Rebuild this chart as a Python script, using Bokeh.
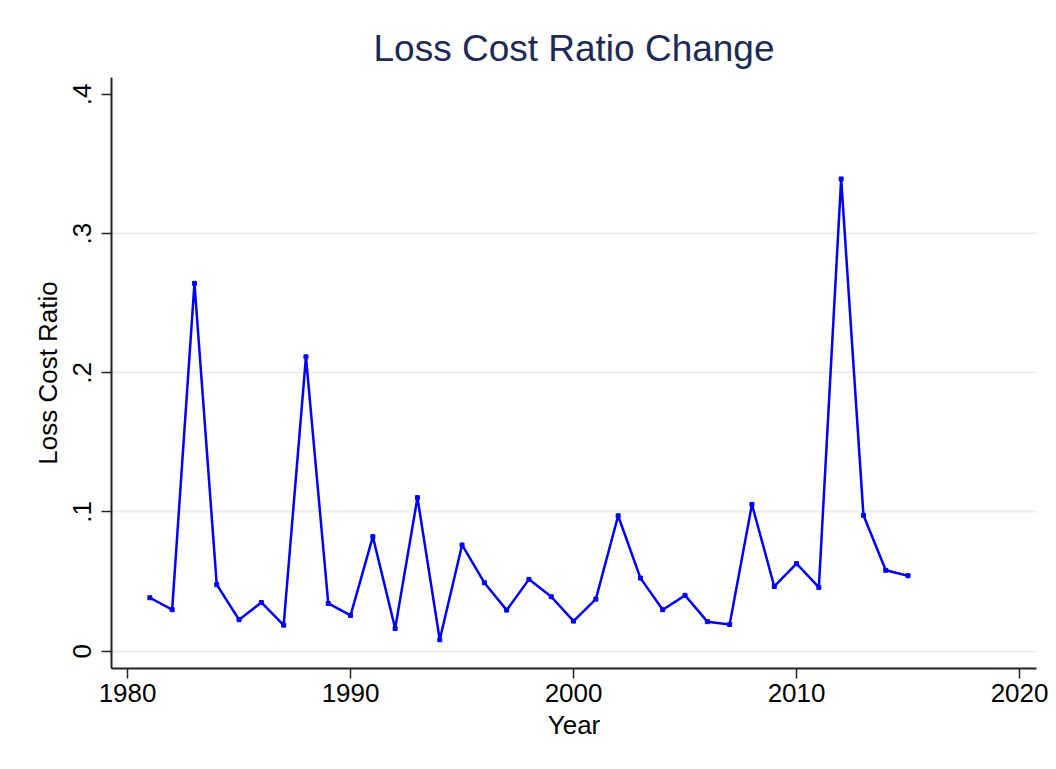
from bokeh.plotting import figure
from bokeh.embed import file_html
from bokeh.resources import INLINE
from bokeh.models import FixedTicker, Range1d, Title

years = list(range(1981, 2016))
loss_cost_ratio = [0.0384, 0.0298, 0.2643, 0.0478, 0.0226, 0.0350, 0.0187, 0.2115,
                   0.0343, 0.0257, 0.0823, 0.0163, 0.1103, 0.0082, 0.0763, 0.0492,
                   0.0295, 0.0516, 0.0391, 0.0216, 0.0374, 0.0973, 0.0525, 0.0298,
                   0.0401, 0.0212, 0.0192, 0.1055, 0.0465, 0.0629, 0.0458, 0.3393,
                   0.0976, 0.0581, 0.0542]
x_ticks = [1980, 1990, 2000, 2010, 2020]
y_ticks = [0, 0.1, 0.2, 0.3, 0.4]
y_tick_labels = {0: "0", 0.1: ".1", 0.2: ".2", 0.3: ".3", 0.4: ".4"}
grid_ticks = [0, 0.1, 0.2, 0.3]

FONT = "Liberation Sans"

p = figure(width=1048, height=761, output_backend="svg", toolbar_location=None,
           x_range=Range1d(1979.28, 2020.76), y_range=Range1d(-0.01245, 0.4122),
           min_border_left=111, min_border_right=12, min_border_top=77, min_border_bottom=93)
p.background_fill_color = "white"
p.border_fill_color = "white"
p.outline_line_color = None

t = Title(text="Loss Cost Ratio Change", align="center", text_font=FONT,
          text_font_size="37px", text_font_style="normal", text_color="#1c2a55",
          standoff=18)
p.add_layout(t, "above")

p.line(years, loss_cost_ratio, line_color="#0000ff", line_width=2.5)
p.scatter(years, loss_cost_ratio, marker="square", size=4, fill_color="#0000ff", line_color="#0000ff")

p.xaxis.ticker = FixedTicker(ticks=x_ticks)
p.yaxis.ticker = FixedTicker(ticks=y_ticks)
p.yaxis.major_label_overrides = y_tick_labels
p.yaxis.major_label_orientation = "vertical"
p.xaxis.axis_label = "Year"
p.yaxis.axis_label = "Loss Cost Ratio"
for ax in (p.xaxis, p.yaxis):
    ax.axis_label_text_font = FONT
    ax.axis_label_text_font_size = "26px"
    ax.axis_label_text_font_style = "normal"
    ax.axis_label_text_color = "black"
    ax.major_label_text_font = FONT
    ax.major_label_text_font_size = "26px"
    ax.major_label_text_color = "black"
    ax.axis_line_color = "#222222"
    ax.axis_line_width = 2
    ax.major_tick_line_color = "#222222"
    ax.major_tick_line_width = 1.5
    ax.major_tick_out = 10
    ax.major_tick_in = 0
    ax.minor_tick_line_color = None
p.xaxis.major_label_standoff = 5
p.xaxis.axis_label_standoff = 5
p.yaxis.major_label_standoff = 10
p.yaxis.axis_label_standoff = 8

p.xgrid.grid_line_color = None
p.ygrid.ticker = FixedTicker(ticks=grid_ticks)
p.ygrid.grid_line_color = "#e8eff2"
p.ygrid.grid_line_width = 2

open("out.html", "w").write(file_html(p, INLINE))
